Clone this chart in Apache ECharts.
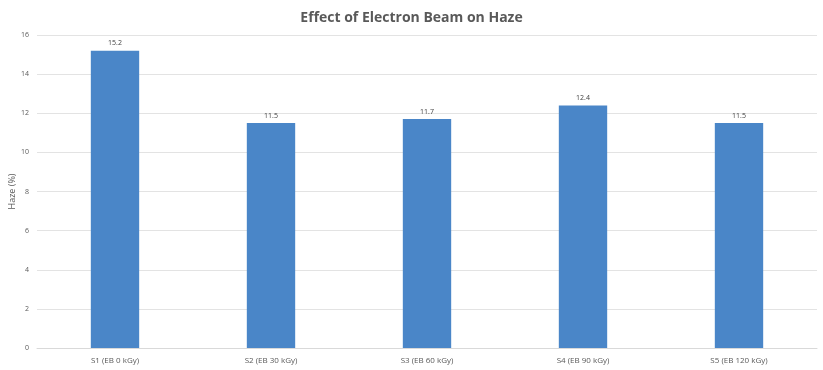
<!DOCTYPE html>
<html><head><meta charset="utf-8">
<script src="https://cdn.jsdelivr.net/npm/echarts@6/dist/echarts.min.js"></script>
<style>html,body{margin:0;padding:0;background:#fff}#c{width:823px;height:370px}</style>
</head><body><div id="c"></div>
<script>
const categories = ['S1 (EB 0 kGy)','S2 (EB 30 kGy)','S3 (EB 60 kGy)','S4 (EB 90 kGy)','S5 (EB 120 kGy)'];
const hazeValues = [15.2, 11.5, 11.7, 12.4, 11.5];
const chart = echarts.init(document.getElementById('c'));
chart.setOption({
  animation: false,
  title: {text: 'Effect of Electron Beam on Haze', left: 'center', top: 6,
    textStyle: {fontFamily: 'Open Sans', fontSize: 14, fontWeight: 'bold', color: '#595959'}},
  grid: {left: 37, right: 6, top: 35, bottom: 22, containLabel: false, outerBoundsMode: 'none'},
  xAxis: {type: 'category', data: categories,
    axisLine: {lineStyle: {color: '#d9d9d9'}}, axisTick: {show: false},
    axisLabel: {fontFamily: 'Open Sans', fontSize: 8, color: '#595959', margin: 9}},
  yAxis: {type: 'value', min: 0, max: 16, interval: 2, name: 'Haze (%)', nameLocation: 'middle', nameGap: 20,
    nameMoveOverlap: false,
    nameTextStyle: {fontFamily: 'Open Sans', fontSize: 9, color: '#595959'},
    axisLine: {show: false}, axisTick: {show: false},
    axisLabel: {fontFamily: 'Open Sans', fontSize: 7, color: '#595959', margin: 8},
    splitLine: {lineStyle: {color: '#e3e3e3'}}},
  series: [{type: 'bar', data: hazeValues, barWidth: '31%',
    itemStyle: {color: '#4a86c8'},
    label: {show: true, position: 'top', fontFamily: 'Open Sans', fontSize: 7, color: '#404040', distance: 4}}]
});
</script></body></html>
